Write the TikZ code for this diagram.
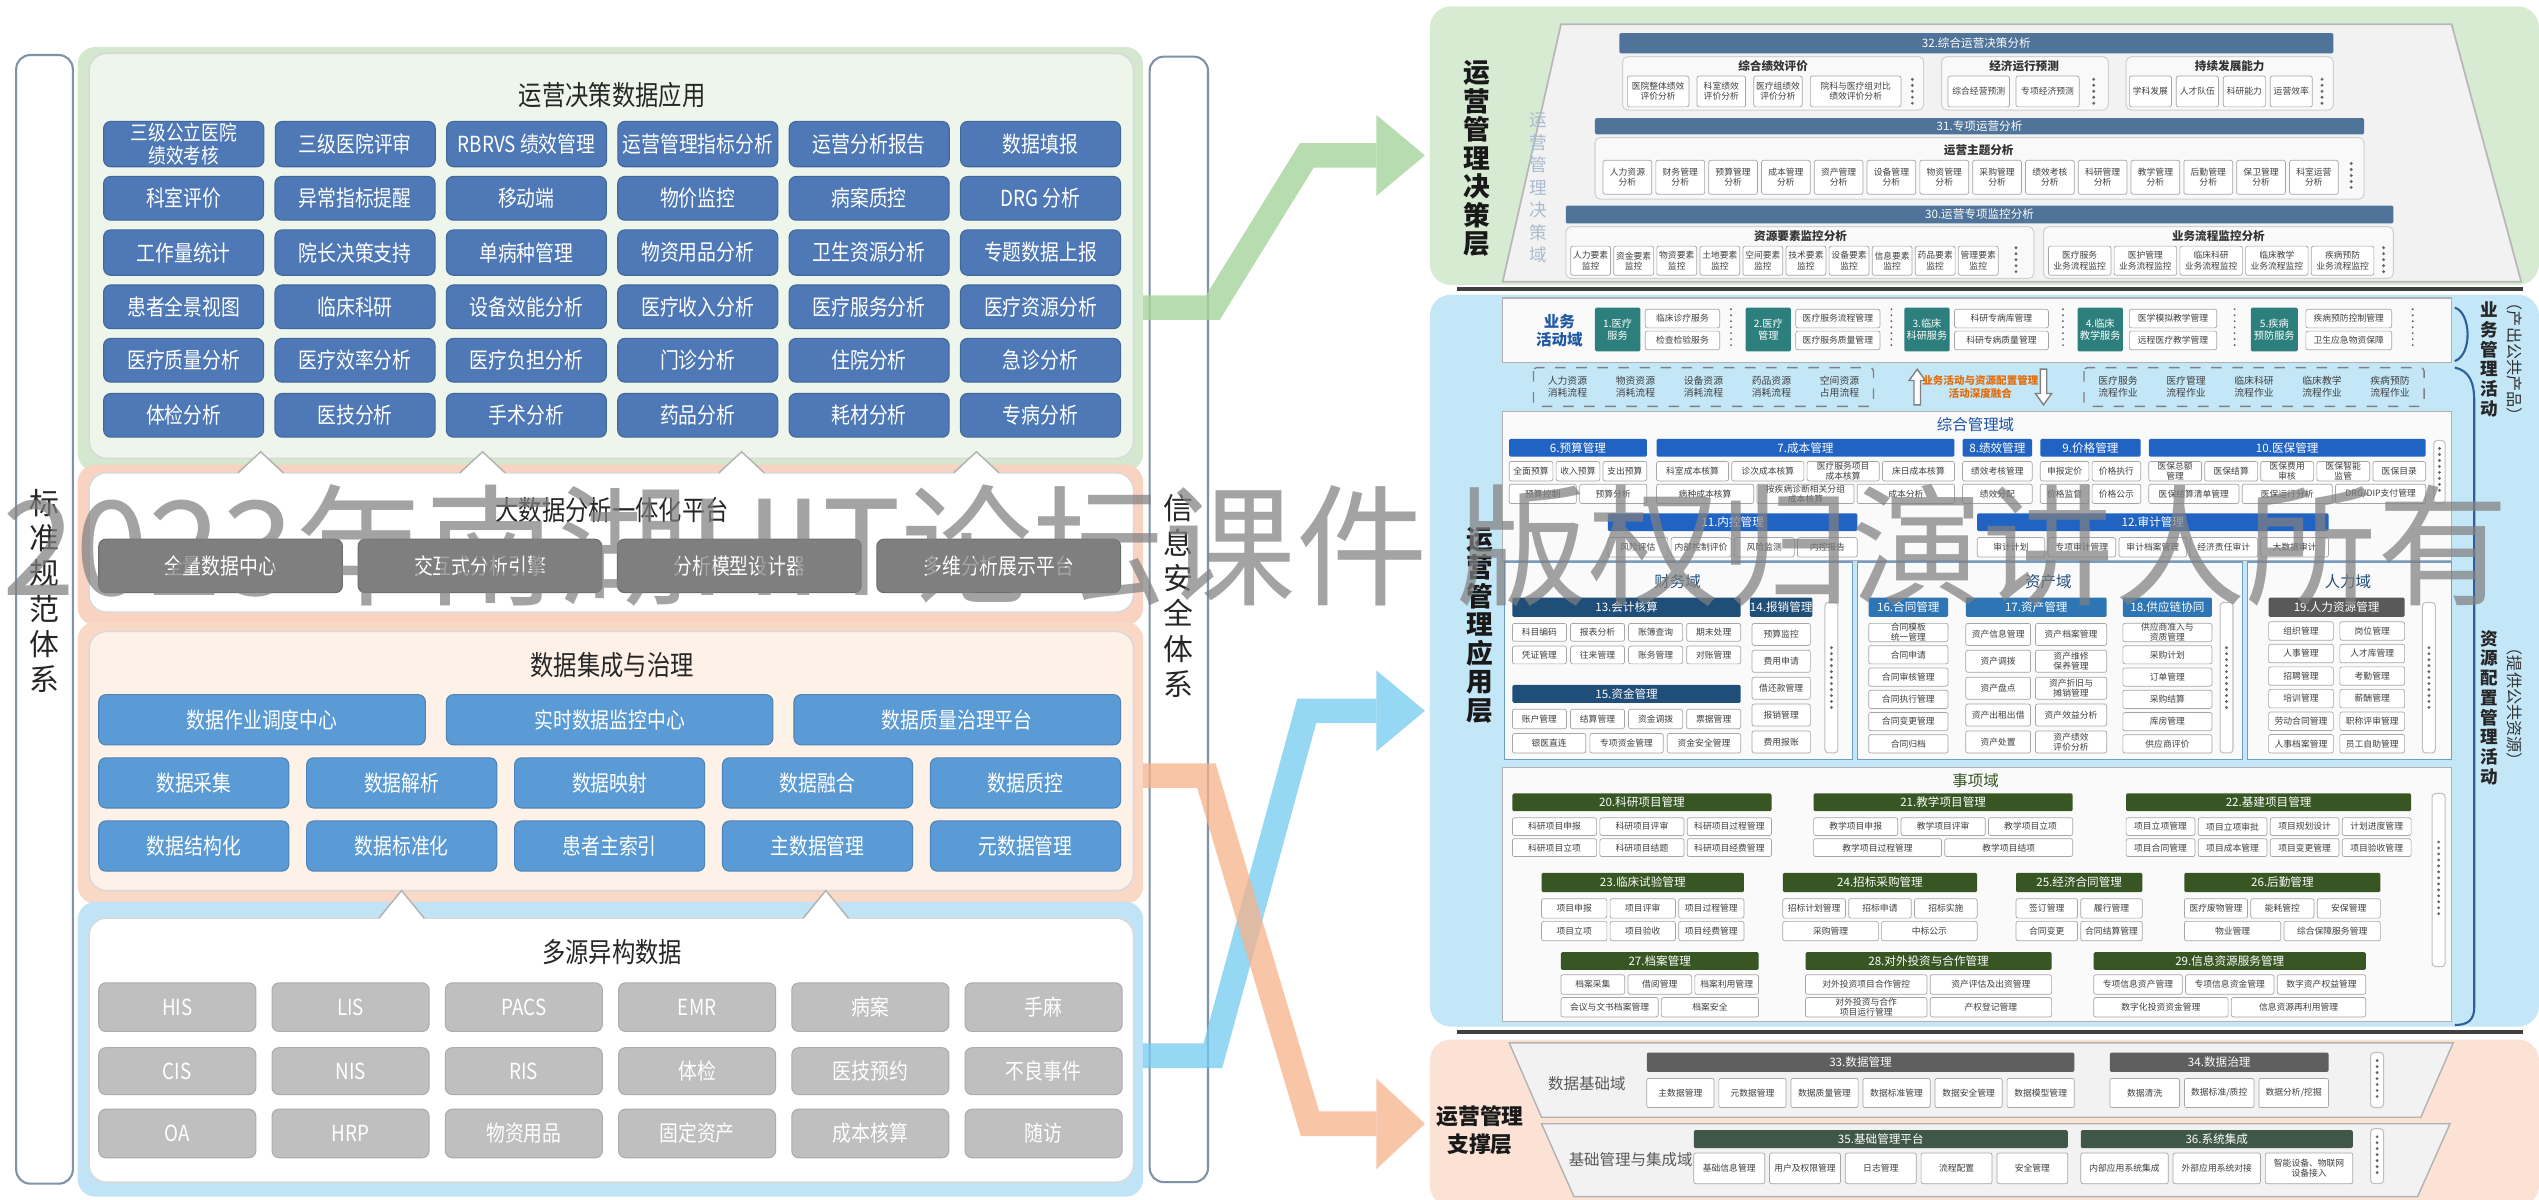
\documentclass[tikz,border=0pt]{standalone}
\usepackage{fontspec}
\setmainfont{Noto Sans CJK SC}
\newfontfamily\nar[FakeStretch=0.85]{Noto Sans CJK SC}
\usetikzlibrary{arrows.meta}
\def\pxu{0.1619mm}
\newcommand\fs[2]{\fontsize{#1}{#2}\selectfont}
\definecolor{cLB}{HTML}{4E79B6}
\definecolor{cMB}{HTML}{5B9BD5}
\definecolor{cPG}{HTML}{7F7F7F}
\definecolor{cLG}{HTML}{BFBFBF}
\definecolor{cGrO}{HTML}{D3E8CE}
\definecolor{cGrI}{HTML}{EEF6EB}
\definecolor{cPkO}{HTML}{F8D3C2}
\definecolor{cPeO}{HTML}{F9D8C5}
\definecolor{cPeI}{HTML}{FDF1E8}
\definecolor{cBlO}{HTML}{C0E4F5}
\definecolor{cBar}{HTML}{7F93A8}
\definecolor{cAG}{HTML}{A6D49B}
\definecolor{cAB}{HTML}{74CAEF}
\definecolor{cAO}{HTML}{F6B28A}
\definecolor{cRG}{HTML}{D7EBD3}
\definecolor{cRB}{HTML}{C4E7F7}
\definecolor{cRO}{HTML}{FBE2D4}
\definecolor{cTrap}{HTML}{F2F2F2}
\definecolor{cH1}{HTML}{4F7399}
\definecolor{cTeal}{HTML}{2C7F7C}
\definecolor{cH2}{HTML}{2063C3}
\definecolor{cFin}{HTML}{1F4E79}
\definecolor{cAst}{HTML}{2E75B6}
\definecolor{cHR}{HTML}{595959}
\definecolor{cEvt}{HTML}{375623}
\definecolor{cDat}{HTML}{5F5F5F}
\definecolor{cBas}{HTML}{3E5747}
\definecolor{cOrT}{HTML}{E46C0A}
\definecolor{cVT}{HTML}{A9BCCF}
\definecolor{cBr}{HTML}{2F5F9A}
% box by corners
\newcommand\bx[7]{\node[#2, minimum width={((#5)-(#3))*\pxu}, minimum height={((#6)-(#4))*\pxu}] (#1) at ({((#3)+(#5))/2},{((#4)+(#6))/2}) {#7};}
% row of boxes: prefix, style, x0, x1, y0, y1, n, gap, list
\newcommand\bxrow[9]{%
  \pgfmathsetmacro\bxw{((#4)-(#3)-((#7)-1)*(#8))/(#7)}%
  \foreach \bxt [count=\bxi] in {#9}{%
    \pgfmathsetmacro\bxa{(#3)+(\bxi-1)*(\bxw+(#8))}%
    \pgfmathsetmacro\bxb{\bxa+\bxw}%
    \bx{#1\bxi}{#2}{\bxa}{#5}{\bxb}{#6}{\bxt}%
  }}
% column of boxes: prefix, style, x0, x1, y0, y1, n, gap, list
\newcommand\bxcol[9]{%
  \pgfmathsetmacro\bxh{((#6)-(#5)-((#7)-1)*(#8))/(#7)}%
  \foreach \bxt [count=\bxi] in {#9}{%
    \pgfmathsetmacro\bxa{(#5)+(\bxi-1)*(\bxh+(#8))}%
    \pgfmathsetmacro\bxb{\bxa+\bxh}%
    \bx{#1\bxi}{#2}{#3}{\bxa}{#4}{\bxb}{\bxt}%
  }}
\begin{document}
\begin{tikzpicture}[x=\pxu, y=-\pxu,
  lb/.style={fill=cLB, draw=cLB!85!black, line width=0.3pt, rounded corners=2pt, text=white, font=\nar\fs{6.3}{7.2}, inner sep=0pt, outer sep=0pt, align=center},
  mbx/.style={lb, fill=cMB, draw=cMB!85!black},
  pgx/.style={lb, fill=cPG, draw=cPG!85!black},
  lgx/.style={lb, fill=cLG, draw=cLG!90!black},
  ttl/.style={font=\nar\fs{7.8}{9}, text=black!85},
  vtx/.style={font=\fs{8.5}{10}, align=center, text=black!85},
  hd/.style={text=white, font=\fs{3.3}{3.7}, inner sep=0pt, outer sep=0pt, align=center, rounded corners=0.4pt},
  it/.style={draw=black!35, fill=white, rounded corners=0.6pt, font=\fs{2.5}{2.9}, text=black!75, inner sep=0pt, outer sep=0pt, align=center, line width=0.2pt},
  sub/.style={font=\bfseries\fs{3.3}{4}, text=black!80},
  grp/.style={draw=black!18, fill=white!55!cTrap, rounded corners=1.5pt, line width=0.3pt},
  pnl/.style={draw=black!30, fill=white!60!cTrap, line width=0.4pt},
  dom/.style={font=\fs{4.4}{5}},
  dotv/.style={draw=black!60, line width=0.9pt, dash pattern=on 0pt off 1.7pt, line cap=round},
  scr/.style={draw=black!25, fill=white, rounded corners=1pt, line width=0.3pt},
  lay/.style={font=\bfseries\fs{7.6}{8.1}, align=center, text=black!90},
  dtx/.style={font=\fs{2.8}{3.3}, text=black!75, align=center, inner sep=0pt},
  brk/.style={draw=cBr, line width=0.6pt},
]
\useasboundingbox (0,0) rectangle (1568,740.5);
\fill[white] (0,0) rectangle (1568,740.5);

%================ LEFT ================
\fill[cGrO, rounded corners=5pt] (48,29) rectangle (706,291);
\draw[fill=cGrI, draw=black!15, rounded corners=5pt, line width=0.4pt] (55,33) rectangle (700,283);
\fill[cPkO, rounded corners=5pt] (48,287) rectangle (706,386);
\draw[fill=white, draw=black!15, rounded corners=5pt, line width=0.4pt] (55,292) rectangle (700,378);
\fill[cPeO, rounded corners=5pt] (48,384) rectangle (706,558);
\draw[fill=cPeI, draw=black!15, rounded corners=5pt, line width=0.4pt] (55,390) rectangle (700,550);
\fill[cBlO, rounded corners=5pt] (48,557) rectangle (706,739);
\draw[fill=white, draw=black!15, rounded corners=5pt, line width=0.4pt] (55,567) rectangle (700,730);

\foreach \cx in {161,298,458,603}{
  \fill[white] (\cx-14,293) -- (\cx,279) -- (\cx+14,293) -- cycle;
  \draw[black!30, line width=0.4pt] (\cx-14,292) -- (\cx,279) -- (\cx+14,292);}
\foreach \cx in {248,510}{
  \fill[white] (\cx-14,568) -- (\cx,550) -- (\cx+14,568) -- cycle;
  \draw[black!30, line width=0.4pt] (\cx-14,567) -- (\cx,550) -- (\cx+14,567);}

\node[ttl] (t1) at (378,59) {运营决策数据应用};
\node[ttl] (t2) at (378,315) {大数据分析一体化平台};
\node[ttl] (t3) at (378,411) {数据集成与治理};
\node[ttl] (t4) at (378,588) {多源异构数据};

\bx{a1-1}{lb, font=\nar\fs{5.9}{6.4}}{64}{75}{163}{103}{三级公立医院\\绩效考核}
\bxrow{a1x-}{lb}{170}{692}{75}{103}{5}{7}{三级医院评审, RBRVS 绩效管理, 运营管理指标分析, 运营分析报告, 数据填报}
\bxrow{a2-}{lb}{64}{692}{109}{136}{6}{7}{科室评价, 异常指标提醒, 移动端, 物价监控, 病案质控, DRG 分析}
\bxrow{a3-}{lb}{64}{692}{142}{170}{6}{7}{工作量统计, 院长决策支持, 单病种管理, 物资用品分析, 卫生资源分析, 专题数据上报}
\bxrow{a4-}{lb}{64}{692}{176}{203}{6}{7}{患者全景视图, 临床科研, 设备效能分析, 医疗收入分析, 医疗服务分析, 医疗资源分析}
\bxrow{a5-}{lb}{64}{692}{209}{236}{6}{7}{医疗质量分析, 医疗效率分析, 医疗负担分析, 门诊分析, 住院分析, 急诊分析}
\bxrow{a6-}{lb}{64}{692}{243}{270}{6}{7}{体检分析, 医技分析, 手术分析, 药品分析, 耗材分析, 专病分析}

\bxrow{p-}{pgx}{61}{692}{333}{366}{4}{9.7}{全量数据中心, 交互式分析引擎, 分析模型设计器, 多维分析展示平台}

\bxrow{g1-}{mbx}{61}{692}{429}{460}{3}{13}{数据作业调度中心, 实时数据监控中心, 数据质量治理平台}
\bxrow{g2-}{mbx}{61}{692}{468}{499}{5}{11}{数据采集, 数据解析, 数据映射, 数据融合, 数据质控}
\bxrow{g3-}{mbx}{61}{692}{507}{538}{5}{11}{数据结构化, 数据标准化, 患者主索引, 主数据管理, 元数据管理}

\bxrow{d1-}{lgx}{61}{693}{607}{637}{6}{10}{HIS, LIS, PACS, EMR, 病案, 手麻}
\bxrow{d2-}{lgx}{61}{693}{647}{676}{6}{10}{CIS, NIS, RIS, 体检, 医技预约, 不良事件}
\bxrow{d3-}{lgx}{61}{693}{685}{715}{6}{10}{OA, HRP, 物资用品, 固定资产, 成本核算, 随访}

% side bars
\draw[fill=white, draw=cBar, line width=0.6pt, rounded corners=4pt] (10,34) rectangle (45,731);
\node[vtx] (bz) at (27.5,365) {标\\准\\规\\范\\体\\系};
\draw[fill=white, draw=cBar, line width=0.6pt, rounded corners=4pt] (710,35) rectangle (746,730);
\node[vtx] (aq) at (728,368) {信\\息\\安\\全\\体\\系};

%================ RIGHT: decision layer ================
\fill[cRG, rounded corners=6pt] (883,4) rectangle (1568,176);
\node[lay] (jcc) at (912,98) {运\\营\\管\\理\\决\\策\\层};
\draw[fill=cTrap, draw=black!28, line width=0.5pt] (964,15) -- (1514,15) -- (1557,174) -- (928,174) -- cycle;
\node[font=\fs{5}{6.4}, text=cVT, align=center] (jcy) at (950,116) {运\\营\\管\\理\\决\\策\\域};

\bx{h32}{hd,fill=cH1}{1000}{20.5}{1441}{33}{32.综合运营决策分析}
\draw[grp] (1002,35) rectangle (1188,68);
\draw[grp] (1199,35) rectangle (1302,68);
\draw[grp] (1313,35) rectangle (1441,68);
\node[sub] (s1) at (1095,41) {综合绩效评价};
\node[sub] (s2) at (1250,41) {经济运行预测};
\node[sub] (s3) at (1377,41) {持续发展能力};
\bx{e1}{it}{1005}{47}{1043}{66}{医院整体绩效\\评价分析}
\bx{e2}{it}{1048}{47}{1078}{66}{科室绩效\\评价分析}
\bx{e3}{it}{1083}{47}{1113}{66}{医疗组绩效\\评价分析}
\bx{e4}{it}{1118}{47}{1174}{66}{院科与医疗组对比\\绩效评价分析}
\bx{e5}{it}{1203}{47}{1241}{66}{综合经营预测}
\bx{e6}{it}{1245}{47}{1284}{66}{专项经济预测}
\bxrow{e7-}{it}{1315}{1428}{47}{66}{4}{3}{学科发展, 人才队伍, 科研能力, 运营效率}
\draw[dotv] (1181,49) -- (1181,64);
\draw[dotv] (1293,49) -- (1293,64);
\draw[dotv] (1434,49) -- (1434,64);

\bx{h31}{hd,fill=cH1}{985}{73}{1460}{83}{31.专项运营分析}
\draw[grp] (985,85) rectangle (1460,123);
\node[sub] (s4) at (1222,93) {运营主题分析};
\bxrow{m-}{it}{990}{1444}{99}{120}{14}{2.5}{{人力资源\\分析}, {财务管理\\分析}, {预算管理\\分析}, {成本管理\\分析}, {资产管理\\分析}, {设备管理\\分析}, {物资管理\\分析}, {采购管理\\分析}, {绩效考核\\分析}, {科研管理\\分析}, {教学管理\\分析}, {后勤管理\\分析}, {保卫管理\\分析}, {科室运营\\分析}}
\draw[dotv] (1452,101) -- (1452,118);

\bx{h30}{hd,fill=cH1}{967}{127}{1478}{138}{30.运营专项监控分析}
\draw[grp] (967,140) rectangle (1256,172);
\draw[grp] (1262,140) rectangle (1478,172);
\node[sub] (s5) at (1112,146) {资源要素监控分析};
\node[sub] (s6) at (1370,146) {业务流程监控分析};
\bxrow{r-}{it}{970}{1234}{152}{170}{10}{2}{{人力要素\\监控}, {资金要素\\监控}, {物资要素\\监控}, {土地要素\\监控}, {空间要素\\监控}, {技术要素\\监控}, {设备要素\\监控}, {信息要素\\监控}, {药品要素\\监控}, {管理要素\\监控}}
\draw[dotv] (1245,153) -- (1245,169);
\bxrow{q-}{it}{1265}{1466}{152}{170}{5}{2}{{医疗服务\\业务流程监控}, {医护管理\\业务流程监控}, {临床科研\\业务流程监控}, {临床教学\\业务流程监控}, {疾病预防\\业务流程监控}}
\draw[dotv] (1472,153) -- (1472,169);

\draw[black!75, line width=1.2pt] (900,178.5) -- (1558,178.5);

%================ RIGHT: application layer ================
\fill[cRB, rounded corners=6pt] (883,182) rectangle (1568,634);
\node[lay] (yyc) at (914,386) {运\\营\\管\\理\\应\\用\\层};

% business activity domain
\draw[pnl] (928,184) rectangle (1514,224);
\node[font=\bfseries\fs{4.4}{5.2}, text=cTeal!70!blue, align=center] (yw) at (963,204) {业务\\活动域};
\bx{t1}{hd,fill=cTeal,font=\fs{2.9}{3.4}}{985}{190}{1013}{217}{1.医疗\\服务}
\bx{t2}{hd,fill=cTeal,font=\fs{2.9}{3.4}}{1078}{190}{1106}{217}{2.医疗\\管理}
\bx{t3}{hd,fill=cTeal,font=\fs{2.9}{3.4}}{1176}{190}{1204}{217}{3.临床\\科研服务}
\bx{t4}{hd,fill=cTeal,font=\fs{2.9}{3.4}}{1283}{190}{1311}{217}{4.临床\\教学服务}
\bx{t5}{hd,fill=cTeal,font=\fs{2.9}{3.4}}{1390}{190}{1419}{217}{5.疾病\\预防服务}
\bxcol{b1-}{it}{1016}{1062}{191}{216}{2}{2}{临床诊疗服务, 检查检验服务}
\bxcol{b2-}{it}{1109}{1161}{191}{216}{2}{2}{医疗服务流程管理, 医疗服务质量管理}
\bxcol{b3-}{it}{1207}{1265}{191}{216}{2}{2}{科研专病库管理, 科研专病质量管理}
\bxcol{b4-}{it}{1315}{1369}{191}{216}{2}{2}{医学模拟教学管理, 远程医疗教学管理}
\bxcol{b5-}{it}{1424}{1477}{191}{216}{2}{2}{疾病预防控制管理, 卫生应急物资保障}
\foreach \x in {1069,1168,1274,1380,1490}{\draw[dotv, line width=0.6pt] (\x,191) -- (\x,216);}

% fusion band
\draw[dashed, draw=black!50, line width=0.4pt, rounded corners=1pt] (947,227) rectangle (1157,251);
\draw[dashed, draw=black!50, line width=0.4pt, rounded corners=1pt] (1287,227) rectangle (1497,251);
\foreach \t [count=\i] in {{人力资源\\消耗流程}, {物资资源\\消耗流程}, {设备资源\\消耗流程}, {药品资源\\消耗流程}, {空间资源\\占用流程}}{
  \node[dtx] (fl\i) at ({947+21+(\i-1)*42},239) {\t};}
\foreach \t [count=\i] in {{医疗服务\\流程作业}, {医疗管理\\流程作业}, {临床科研\\流程作业}, {临床教学\\流程作业}, {疾病预防\\流程作业}}{
  \node[dtx] (fr\i) at ({1287+21+(\i-1)*42},239) {\t};}
\draw[black!50, fill=white, line width=0.4pt] (1182,250) -- (1182,235) -- (1179,235) -- (1184,228) -- (1189,235) -- (1186,235) -- (1186,250) -- cycle;
\draw[black!50, fill=white, line width=0.4pt] (1260,228) -- (1260,243) -- (1257,243) -- (1262,250) -- (1267,243) -- (1264,243) -- (1264,228) -- cycle;
\node[font=\bfseries\fs{3}{3.8}, text=cOrT, align=center] (rh) at (1223,239) {业务活动与资源配置管理\\活动深度融合};

% comprehensive management domain
\draw[pnl] (928,254) rectangle (1514,346);
\node[dom, text=cH2!85!black] (zh) at (1220,262) {综合管理域};
\bx{h6}{hd,fill=cH2}{932}{271}{1017}{282}{6.预算管理}
\bx{h7}{hd,fill=cH2}{1023}{271}{1207}{282}{7.成本管理}
\bx{h8}{hd,fill=cH2}{1212}{271}{1255}{282}{8.绩效管理}
\bx{h9}{hd,fill=cH2}{1260}{271}{1322}{282}{9.价格管理}
\bx{h10}{hd,fill=cH2}{1327}{271}{1498}{282}{10.医保管理}
\bxrow{i6a-}{it}{932}{1017}{285}{297}{3}{2}{全面预算, 收入预算, 支出预算}
\bxrow{i6b-}{it}{932}{1017}{299}{311}{2}{2}{预算控制, 预算分析}
\bxrow{i7a-}{it}{1023}{1207}{285}{297}{4}{2}{科室成本核算, 诊次成本核算, {医疗服务项目\\成本核算}, 床日成本核算}
\bxrow{i7b-}{it}{1023}{1207}{299}{311}{3}{2}{病种成本核算, {按疾病诊断相关分组\\成本核算}, 成本分析}
\bx{i8a}{it}{1212}{285}{1255}{297}{绩效考核管理}
\bx{i8b}{it}{1212}{299}{1255}{311}{绩效分配}
\bxrow{i9a-}{it}{1260}{1322}{285}{297}{2}{2}{申报定价, 价格执行}
\bxrow{i9b-}{it}{1260}{1322}{299}{311}{2}{2}{价格监督, 价格公示}
\bxrow{i10a-}{it}{1327}{1498}{285}{297}{5}{2}{{医保总额\\管理}, 医保结算, {医保费用\\审核}, {医保智能\\监管}, 医保目录}
\bxrow{i10b-}{it}{1327}{1498}{299}{311}{3}{2}{医保结算清单管理, 医保运行分析, DRG/DIP支付管理}
\draw[scr] (1503,272) rectangle (1510,311);
\draw[dotv] (1506.5,277) -- (1506.5,306);
\bx{h11}{hd,fill=cH2}{993}{317}{1147}{328}{11.内控管理}
\bx{h12}{hd,fill=cH2}{1221}{317}{1438}{328}{12.审计管理}
\bxrow{i11-}{it}{993}{1147}{332}{344}{4}{2}{风险评估, 内部控制评价, 风险监测, 内控报告}
\bxrow{i12-}{it}{1221}{1438}{332}{344}{5}{2}{审计计划, 专项审计管理, 审计档案管理, 经济责任审计, 大数据审计}

% finance / asset / HR
\draw[pnl, draw=cAst!70] (929,347) rectangle (1144,469);
\draw[pnl, draw=cAst!70] (1147,347) rectangle (1385,469);
\draw[pnl, draw=cAst!70] (1388,347) rectangle (1514,469);
\node[dom, text=cFin] (cw) at (1036,359) {财务域};
\node[dom, text=cFin] (zc) at (1265,359) {资产域};
\node[dom, text=cFin] (rl) at (1450,359) {人力域};
\bx{h13}{hd,fill=cFin}{934}{369}{1075}{381}{13.会计核算}
\bx{h14}{hd,fill=cFin}{1082}{369}{1118}{381}{14.报销管理}
\bxrow{i13a-}{it}{934}{1075}{385}{396}{4}{2.5}{科目编码, 报表分析, 账簿查询, 期末处理}
\bxrow{i13b-}{it}{934}{1075}{399}{410}{4}{2.5}{凭证管理, 往来管理, 账务管理, 对账管理}
\bxcol{i14-}{it}{1082}{1118}{385}{465}{5}{3}{预算监控, 费用申请, 借还款管理, 报销管理, 费用报账}
\bx{h15}{hd,fill=cFin}{934}{423}{1075}{434}{15.资金管理}
\bxrow{i15a-}{it}{934}{1075}{438}{450}{4}{2.5}{账户管理, 结算管理, 资金调拨, 票据管理}
\bxrow{i15b-}{it}{934}{1075}{453}{465}{3}{2.5}{银医直连, 专项资金管理, 资金安全管理}
\draw[scr] (1127,372) rectangle (1135,465);
\draw[dotv] (1131,400) -- (1131,440);
\bx{h16}{hd,fill=cAst}{1154}{369}{1203}{381}{16.合同管理}
\bx{h17}{hd,fill=cAst}{1214}{369}{1301}{381}{17.资产管理}
\bx{h18}{hd,fill=cAst}{1311}{369}{1366}{381}{18.供应链协同}
\bxcol{i16-}{it}{1154}{1203}{385}{465}{6}{2.5}{{合同模板\\统一管理}, 合同申请, 合同审核管理, 合同执行管理, 合同变更管理, 合同归档}
\bxcol{i17a-}{it}{1214}{1254}{385}{465}{5}{3}{资产信息管理, 资产调拨, 资产盘点, 资产出租出借, 资产处置}
\bxcol{i17b-}{it}{1257}{1301}{385}{465}{5}{3}{资产档案管理, {资产维修\\保养管理}, {资产折旧与\\摊销管理}, 资产效益分析, {资产绩效\\评价分析}}
\bxcol{i18-}{it}{1311}{1366}{385}{465}{6}{2.5}{{供应商准入与\\资质管理}, 采购计划, 订单管理, 采购结算, 库房管理, 供应商评价}
\draw[scr] (1371,372) rectangle (1379,465);
\draw[dotv] (1375,400) -- (1375,440);
\bx{h19}{hd,fill=cHR}{1401}{369}{1485}{381}{19.人力资源管理}
\bxcol{i19a-}{it}{1401}{1441}{384}{465}{6}{2.5}{组织管理, 人事管理, 招聘管理, 培训管理, 劳动合同管理, 人事档案管理}
\bxcol{i19b-}{it}{1445}{1485}{384}{465}{6}{2.5}{岗位管理, 人才库管理, 考勤管理, 薪酬管理, 职称评审管理, 员工自助管理}
\draw[scr] (1496,372) rectangle (1504,465);
\draw[dotv] (1500,400) -- (1500,440);

% matters domain
\draw[pnl] (928,474) rectangle (1514,631);
\node[dom, text=cEvt] (sx) at (1220,482) {事项域};
\bx{h20}{hd,fill=cEvt}{934}{490}{1094}{501}{20.科研项目管理}
\bx{h21}{hd,fill=cEvt}{1120}{490}{1280}{501}{21.教学项目管理}
\bx{h22}{hd,fill=cEvt}{1313}{490}{1489}{501}{22.基建项目管理}
\bxrow{i20a-}{it}{934}{1094}{505}{516}{3}{2}{科研项目申报, 科研项目评审, 科研项目过程管理}
\bxrow{i20b-}{it}{934}{1094}{518}{529}{3}{2}{科研项目立项, 科研项目结题, 科研项目经费管理}
\bxrow{i21a-}{it}{1120}{1280}{505}{516}{3}{2}{教学项目申报, 教学项目评审, 教学项目立项}
\bxrow{i21b-}{it}{1120}{1280}{518}{529}{2}{2}{教学项目过程管理, 教学项目结项}
\bxrow{i22a-}{it}{1313}{1489}{505}{516}{4}{2}{项目立项管理, 项目立项审批, 项目规划设计, 计划进度管理}
\bxrow{i22b-}{it}{1313}{1489}{518}{529}{4}{2}{项目合同管理, 项目成本管理, 项目变更管理, 项目验收管理}
\bx{h23}{hd,fill=cEvt}{952}{539}{1077}{551}{23.临床试验管理}
\bx{h24}{hd,fill=cEvt}{1101}{539}{1221}{551}{24.招标采购管理}
\bx{h25}{hd,fill=cEvt}{1245}{539}{1323}{551}{25.经济合同管理}
\bx{h26}{hd,fill=cEvt}{1349}{539}{1470}{551}{26.后勤管理}
\bxrow{i23a-}{it}{952}{1077}{555}{567}{3}{2}{项目申报, 项目评审, 项目过程管理}
\bxrow{i23b-}{it}{952}{1077}{569}{581}{3}{2}{项目立项, 项目验收, 项目经费管理}
\bxrow{i24a-}{it}{1101}{1221}{555}{567}{3}{2}{招标计划管理, 招标申请, 招标实施}
\bxrow{i24b-}{it}{1101}{1221}{569}{581}{2}{2}{采购管理, 中标公示}
\bxrow{i25a-}{it}{1245}{1323}{555}{567}{2}{2}{签订管理, 履行管理}
\bxrow{i25b-}{it}{1245}{1323}{569}{581}{2}{2}{合同变更, 合同结算管理}
\bxrow{i26a-}{it}{1349}{1470}{555}{567}{3}{2}{医疗废物管理, 能耗管控, 安保管理}
\bxrow{i26b-}{it}{1349}{1470}{569}{581}{2}{2}{物业管理, 综合保障服务管理}
\bx{h27}{hd,fill=cEvt}{964}{588}{1086}{599}{27.档案管理}
\bx{h28}{hd,fill=cEvt}{1115}{588}{1267}{599}{28.对外投资与合作管理}
\bx{h29}{hd,fill=cEvt}{1293}{588}{1461}{599}{29.信息资源服务管理}
\bxrow{i27a-}{it}{964}{1086}{602}{614}{3}{2}{档案采集, 借阅管理, 档案利用管理}
\bxrow{i27b-}{it}{964}{1086}{616}{628}{2}{2}{会议与文书档案管理, 档案安全}
\bxrow{i28a-}{it}{1115}{1267}{602}{614}{2}{2}{对外投资项目合作管控, 资产评估及出资管理}
\bxrow{i28b-}{it}{1115}{1267}{616}{628}{2}{2}{{对外投资与合作\\项目运行管理}, 产权登记管理}
\bxrow{i29a-}{it}{1293}{1461}{602}{614}{3}{2}{专项信息资产管理, 专项信息资金管理, 数字资产权益管理}
\bxrow{i29b-}{it}{1293}{1461}{616}{628}{2}{2}{数字化投资资金管理, 信息资源再利用管理}
\draw[scr] (1502,490) rectangle (1510,597);
\draw[dotv] (1506,520) -- (1506,565);

% right strip
\node[font=\bfseries\fs{5}{5.6}, align=center, text=black!85] (bm) at (1537,222) {业\\务\\管\\理\\活\\动};
\node[font=\fs{4.6}{5}, rotate=-90, text=black!80] (bmp) at (1553,222) {（产出公共产品）};
\node[font=\bfseries\fs{5}{5.6}, align=center, text=black!85] (zy) at (1537,437) {资\\源\\配\\置\\管\\理\\活\\动};
\node[font=\fs{4.6}{5}, rotate=-90, text=black!80] (zyp) at (1553,435) {（提供公共资源）};
\draw[brk] (1516,190) .. controls (1526,193) and (1527,219) .. (1516,223);
\draw[brk] (1516,227) .. controls (1525,229) and (1528,236) .. (1528,248) -- (1528,622) .. controls (1528,630) and (1524,633) .. (1516,633);

\draw[black!75, line width=1.2pt] (900,637.5) -- (1558,637.5);

%================ RIGHT: support layer ================
\fill[cRO, rounded corners=6pt] (883,642) rectangle (1568,745);
\node[lay, font=\bfseries\fs{6.2}{8.2}] (zcl) at (914,698) {运营管理\\支撑层};
\draw[pnl, fill=cTrap] (932,644) -- (1515,644) -- (1495,690) -- (952,690) -- cycle;
\draw[pnl, fill=cTrap] (952,694) -- (1513,694) -- (1493,739) -- (972,739) -- cycle;
\node[dom, text=black!65] (sj) at (980,669) {数据基础域};
\node[dom, text=black!65] (jc) at (1007,716) {基础管理与集成域};
\bx{h33}{hd,fill=cDat}{1017}{650}{1281}{662}{33.数据管理}
\bx{h34}{hd,fill=cDat}{1303}{650}{1438}{662}{34.数据治理}
\bxrow{i33-}{it}{1017}{1281}{666}{684}{6}{3}{主数据管理, 元数据管理, 数据质量管理, 数据标准管理, 数据安全管理, 数据模型管理}
\bxrow{i34-}{it}{1303}{1438}{666}{684}{3}{3}{数据清洗, 数据标准/质控, 数据分析/挖掘}
\draw[scr] (1464,650) rectangle (1472,684);
\draw[dotv] (1468,655) -- (1468,679);
\bx{h35}{hd,fill=cBas}{1046}{698}{1277}{709}{35.基础管理平台}
\bx{h36}{hd,fill=cBas}{1285}{698}{1453}{709}{36.系统集成}
\bxrow{i35-}{it}{1046}{1277}{712}{731}{5}{3}{基础信息管理, 用户及权限管理, 日志管理, 流程配置, 安全管理}
\bxrow{i36-}{it}{1285}{1453}{712}{731}{3}{3}{内部应用系统集成, 外部应用系统对接, {智能设备、物联网\\设备接入}}
\draw[scr] (1464,697) rectangle (1472,731);
\draw[dotv] (1468,702) -- (1468,726);

%================ ARROWS ================
\coordinate (gS) at (706,190);  \coordinate (gE) at (880,96);
\coordinate (oS) at (706,479);  \coordinate (oE) at (880,694);
\coordinate (bS) at (706,652);  \coordinate (bE) at (880,439);
\draw[cAG, opacity=0.8, line width=7pt] (gS) -- (749,190) -- (807,96) -- (850,96);
\fill[cAG, opacity=0.8] (850,71) -- (gE) -- (850,121) -- cycle;
\draw[cAB, opacity=0.75, line width=7pt] (bS) -- (749,652) -- (807,439) -- (850,439);
\fill[cAB, opacity=0.75] (850,414) -- (bE) -- (850,464) -- cycle;
\draw[cAO, opacity=0.75, line width=7pt] (oS) -- (745,479) -- (809,694) -- (850,694);
\fill[cAO, opacity=0.75] (850,666) -- (oE) -- (850,722) -- cycle;

%================ WATERMARK ================
\node[anchor=west, text=black!50, opacity=0.72, font=\fs{37.4}{40}, inner sep=0pt] (wm) at (1,337) {2023年南湖HIT论坛课件\ 版权归演讲人所有};
\end{tikzpicture}
\end{document}
